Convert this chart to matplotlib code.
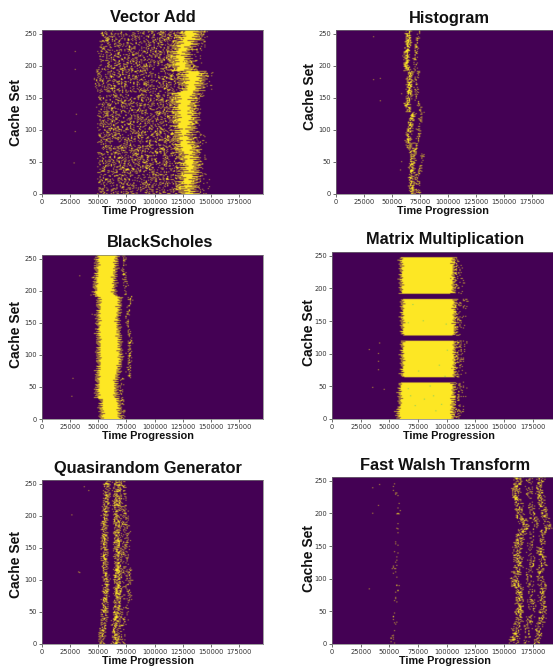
import numpy as np
import matplotlib
matplotlib.use("Agg")
import matplotlib.pyplot as plt

# Values below are in thousands of time units, one entry per 8 cache sets
# (set 0, 8, ... 248). Single speckle dots inside the
# dense regions cannot be read individually: STIPPLE is a hand-typed texture that
# only renders the estimated density of each region; it is not measured data.
FONT = ["Liberation Sans", "DejaVu Sans"]
X_TICKS = [0, 25000, 50000, 75000, 100000, 125000, 150000, 175000]
Y_TICKS = [0, 50, 100, 150, 200, 250]
TITLES = ["Vector Add", "Histogram", "BlackScholes", "Matrix Multiplication",
          "Quasirandom Generator", "Fast Walsh Transform"]

STIPPLE = [
 "7291840536172948305167293840152769348", "0648271953806417295380461729538064172",
 "4917360285914703682591470368259147036", "8352094716283950471628395047162839504",
 "1706483925071648392507164839250716483", "6284917035628491703562849170356284917",
 "3950162847395016284739501628473950162", "9471835062947183506294718350629471835",
 "2816049375281604937528160493752816049", "5093728146509372814650937281465093728",
 "8460291573846029157384602915738460291", "1375860942137586094213758609421375860",
 "6729413058672941305867294130586729413", "4051972836405197283640519728364051972",
 "9238650471923865047192386504719238650", "3784106925378410692537841069253784106",
 "0516389274051638927405163892740516389", "7942560318794256031879425603187942560",
 "2683047195268304719526830471952683047", "5170928463517092846351709284635170928",
 "8394716025839471602583947160258394716", "1062485739106248573910624857391062485",
 "4729301856472930185647293018564729301", "6815072394681507239468150723946815072",
 "0348956127034895612703489561270348956", "9571234680957123468095712346809571234",
 "3206817945320681794532068179453206817", "7485390162748539016274853901627485390",
 "1934062758193406275819340627581934062", "5860729413586072941358607294135860729",
 "2047583196204758319620475831962047583",
]
JITTER_A = [0, 2, -1, 3, -2, 1, -3, 0, 2, -2, 4, -1, 1, -3, 3, 0, -2, 2, -1, -4, 1, 3, -2, 0, 2, -1, -3, 1, 2]
JITTER_B = [1, -2, 3, 0, -1, 2, -3, 4, 0, -2, 1, 3, -1, -2, 2, 0, -4, 3, 1, -1, 2, -3, 0]

# Vector Add
VA_SOLID_L = [124, 124, 123, 123, 125, 125, 124, 124, 121, 120, 120, 119, 120, 118, 118, 118,
              118, 118, 118, 118, 126, 125, 125, 125, 117, 116, 116, 117, 118, 120, 123, 124]
VA_SOLID_R = [133, 134, 134, 135, 136, 136, 136, 135, 135, 134, 132, 130, 132, 133, 134, 134,
              133, 133, 134, 135, 138, 140, 141, 141, 131, 129, 128, 128, 130, 134, 137, 138]
VA_FIELD_L = [49, 49, 49, 49, 50, 50, 50, 50, 50, 50, 50, 50, 50, 50, 50, 50,
              50, 50, 50, 50, 48, 47, 47, 48, 50, 51, 51, 51, 52, 52, 52, 52]
VA_TAIL_R = [146, 146, 145, 144, 144, 143, 143, 143, 143, 144, 144, 143, 140, 140, 140, 140,
             139, 140, 141, 142, 149, 150, 152, 151, 141, 140, 138, 138, 141, 143, 145, 146]
VA_SPARSE_SETS = [4, 5, 11, 12, 19, 20, 26, 27, 31, 32, 77, 78, 79, 80, 143, 144, 151, 152, 155, 156, 157]
VA_DOTS = [(28, 48), (29, 97), (30, 124), (29, 194), (29, 222)]

# Histogram
H_MAIN = [67, 67, 67, 66.5, 67, 67, 68, 68, 67, 65, 64, 64, 65, 66, 67, 68,
          65, 63, 64, 65, 65, 65, 65, 66, 63, 62, 62, 62.5, 63, 64, 64, 64]
H_SECOND = [0, 0, 0, 0, 74, 75, 76.5, 76.5, 71, 71, 72.5, 73, 73, 74, 75, 76.5,
            74, 72.5, 72, 71, 71, 71, 71, 73.5, 70.5, 70, 70, 70.5, 71, 72, 72.7, 73.5]
H_DOTS = [(33, 178), (39, 180), (39, 145), (33, 245), (57, 37), (58, 50), (58, 156)]

# BlackScholes
BS_L = [52.5, 52.5, 52, 52, 48.7, 48.7, 49, 49, 49, 49.5, 50, 50, 50, 50, 50, 50,
        49.5, 49.5, 49.5, 49.5, 49.5, 50, 50, 50.5, 46.6, 47, 47, 47.5, 48, 48, 48.7, 48.7]
BS_R = [68, 68, 68, 67, 65, 65, 65, 65, 66, 67, 68, 69, 68.7, 68.5, 68, 68,
        67.5, 67, 66.5, 66.4, 67, 67.5, 68, 68, 63.4, 63.4, 63.4, 63.5, 64, 64.5, 65, 65.5]
BS_TRAIL = [72, 72, 71, 71, 70, 70, 70, 71, 76.7, 76.7, 76.7, 77, 76.7, 77, 77.5, 78,
            77, 76, 75.5, 75, 76, 76.5, 77, 78, 73, 73.5, 74, 73, 72, 72, 72.5, 72.5]
BS_DOTS = [(26, 35), (27, 63), (33, 223), (44, 163), (43, 193), (45, 221)]

# Matrix Multiplication
MM_L = [57.3, 57.3, 58.7, 59, 59, 59, 59, 0, 61, 61, 61, 61, 61, 61, 61, 0,
        61, 61, 61, 61, 61, 61, 61, 0, 60, 60, 60, 60, 60, 60, 60, 0]
MM_R = [104.6, 104.6, 104.6, 104.6, 105, 105, 105, 0, 106, 106, 106, 106, 106, 106, 106, 0,
        106, 106, 106, 106, 106, 106, 106, 0, 105, 105, 105, 105, 105, 105, 105, 0]
MM_TAIL = [112, 112, 112, 112, 113, 113, 114, 0, 112, 112, 112, 112, 113, 113, 114, 0,
           112, 113, 112, 113, 113, 114, 115, 0, 110, 110, 111, 112, 111, 111, 112, 0]
MM_DOTS = [(35, 48), (32, 106), (40, 75), (40, 88), (40, 100), (41, 116), (45, 45), (114, 56), (117, 118), (117, 183)]
MM_HOLES = [(68, 35), (72, 20), (80, 30), (90, 12), (88, 35), (95, 22), (70, 175), (66, 147), (79, 150),
            (99, 145), (75, 73), (93, 82), (98, 65), (100, 105), (66, 46), (85, 50)]

# Quasirandom Generator
Q_A = [53, 53, 53, 54, 54.5, 55, 55, 55, 55, 56, 56, 56, 57, 56, 55, 55,
       55, 55, 55, 55, 55, 55, 55, 55, 56, 56, 56, 57, 57, 57, 57, 57]
Q_B = [65, 65, 65, 65, 65, 66, 66, 66, 66.5, 67, 67, 67, 67, 67, 67, 67,
       67, 67, 66.5, 66.5, 66.4, 66.4, 66.4, 66.4, 66, 66, 66, 66, 66, 66, 66, 66]
Q_C = [70, 70, 71, 71, 72, 72, 73, 74, 75, 75, 76, 76, 77, 76, 75, 74,
       74, 74, 74, 74, 74, 74, 74, 73, 73, 72, 72, 71, 71, 71, 70, 70]
Q_DOTS = [(26, 201), (32, 112), (33, 111), (37, 245), (41, 239), (52, 200)]

# Fast Walsh Transform
F_MAIN = [158, 159, 160, 161, 162, 162, 162, 163, 163, 163, 162, 160, 158, 160, 162, 162,
          162, 161, 161, 162, 163, 165, 168, 166, 163, 163, 163, 161, 159, 160, 161, 162]
F_FAINT = [52, 52, 53, 53, 54, 54, 55, 55, 55, 55, 56, 56, 55, 54, 54, 55,
           55, 55, 56, 55, 56, 57, 57, 57, 57, 58, 57, 56, 55, 55, 55, 55]
F_OFFSET_2 = [10, 11, 10, 9, 10, 11, 12, 11, 10, 9, 11, 12, 13, 11, 10, 12,
              12, 11, 10, 11, 10, 9, 10, 11, 12, 11, 10, 10, 12, 11, 10, 10]
F_OFFSET_3 = [20, 21, 19, 20, 21, 22, 21, 20, 19, 21, 22, 24, 23, 21, 20, 22,
              21, 20, 20, 22, 21, 19, 20, 22, 23, 21, 20, 21, 23, 21, 20, 20]
F_DOTS = [(32, 84), (35, 200), (40, 212), (35, 239), (41, 244)]


def blank():
    return np.zeros((256, 196))


def fill(img, left, right, density, shift=0, sparse=(), jitter=1.0):
    """Mark cells between two per-bin edges, thinned by the typed stipple tile."""
    for row in range(256):
        bin_ = row // 8
        if left[bin_] <= 0 or right[bin_] <= 0:
            continue
        lo = int(round(left[bin_] + jitter * JITTER_A[(row + shift) % len(JITTER_A)]))
        hi = int(round(right[bin_] + jitter * JITTER_B[(row + shift) % len(JITTER_B)]))
        d = density * (0.2 if row in sparse else 1.0)
        for col in range(max(lo, 0), min(hi, 195) + 1):
            r = (row + shift + 3 * JITTER_A[col % len(JITTER_A)]) % len(STIPPLE)
            c = (col + shift * 5 + 3 * JITTER_B[row % len(JITTER_B)]) % len(STIPPLE[0])
            if int(STIPPLE[r][c]) < d * 10:
                img[row, col] = 1


def ridge(img, centres, half_width, density, shift=0, jitter=0.35):
    left = [c - half_width if c > 0 else 0 for c in centres]
    right = [c + half_width if c > 0 else 0 for c in centres]
    fill(img, left, right, density, shift, jitter=jitter)


def dots(img, points, value=1):
    for t, s in points:
        img[s, t] = value


va = blank()
fill(va, VA_FIELD_L, VA_SOLID_L, 0.2, 0, VA_SPARSE_SETS, 0.4)
fill(va, VA_SOLID_R, VA_TAIL_R, 0.1, 3, VA_SPARSE_SETS, 1.0)
fill(va, VA_SOLID_L, VA_SOLID_R, 1.0, 7, jitter=1.6)
dots(va, VA_DOTS)

hist = blank()
ridge(hist, H_MAIN, 1.6, 0.6, 1)
ridge(hist, H_SECOND, 0.6, 0.4, 5)
ridge(hist, [c + 5 if i < 4 else 0 for i, c in enumerate(H_MAIN)], 1.5, 0.2, 9)
dots(hist, H_DOTS)

bs = blank()
fill(bs, BS_L, BS_R, 1.0, 2, jitter=0.8)
ridge(bs, BS_TRAIL, 0.8, 0.3, 4)
dots(bs, BS_DOTS)

mm = blank()
fill(mm, MM_R, MM_TAIL, 0.2, 6)
fill(mm, MM_L, MM_R, 1.0, 8, jitter=0.7)
dots(mm, MM_DOTS)
dots(mm, MM_HOLES, 0.7)

qr = blank()
ridge(qr, Q_A, 1.8, 0.45, 2)
ridge(qr, Q_B, 2.5, 0.42, 6)
ridge(qr, Q_C, 2.5, 0.15, 11)
dots(qr, Q_DOTS)

fw = blank()
ridge(fw, F_MAIN, 2.8, 0.35, 3)
ridge(fw, [a + b for a, b in zip(F_MAIN, F_OFFSET_2)], 2.2, 0.2, 7)
ridge(fw, [a + b for a, b in zip(F_MAIN, F_OFFSET_3)], 2.2, 0.2, 12)
ridge(fw, [a + b + 9 for a, b in zip(F_MAIN, F_OFFSET_2)], 1.5, 0.12, 15)
ridge(fw, F_FAINT, 0.8, 0.1, 10)
dots(fw, F_DOTS)

IMAGES = [va, hist, bs, mm, qr, fw]

W, H = 553, 669
AXES_PX = [(42, 30, 220.5, 164), (336, 30, 220, 164), (42, 255, 220.5, 164),
           (332, 252, 225, 166.7), (42, 480, 220.5, 164), (332, 477, 225, 166.7)]
TITLE_PX = [(153, 17), (449, 18), (160, 242), (445, 240), (148, 468), (445, 465)]
XLAB_PX = [(148, 211), (443, 211), (148, 436), (449, 436), (148, 661), (445, 661)]
YLAB_PX = [(16, 112), (310, 97), (16, 335), (309, 333), (16, 565), (309, 558)]

fig = plt.figure(figsize=(W / 100, H / 100), dpi=100, facecolor="white")
for i in range(6):
    x, y, w, h = AXES_PX[i]
    ax = fig.add_axes([x / W, 1 - (y + h) / H, w / W, h / H])
    ax.imshow(IMAGES[i], origin="lower", aspect="auto", cmap="viridis", vmin=0, vmax=1,
              extent=(0, 196000, 0, 256), interpolation="gaussian", interpolation_stage="rgba")
    ax.set_xticks(X_TICKS)
    ax.set_yticks(Y_TICKS)
    ax.tick_params(labelsize=4.8, length=2, width=0.5, pad=1.5, colors="#333333")
    for sp in ax.spines.values():
        sp.set_linewidth(0.5)
        sp.set_color("#777777")
    fig.text(TITLE_PX[i][0] / W, 1 - TITLE_PX[i][1] / H, TITLES[i], family=FONT, weight="bold",
             fontsize=11.8, ha="center", va="center", color="#111111")
    fig.text(XLAB_PX[i][0] / W, 1 - XLAB_PX[i][1] / H, "Time Progression", family=FONT, weight="bold",
             fontsize=7.8, ha="center", va="center", color="#111111")
    fig.text(YLAB_PX[i][0] / W, 1 - YLAB_PX[i][1] / H, "Cache Set", family=FONT, weight="bold",
             fontsize=10, rotation=90, ha="center", va="center", color="#111111")

fig.savefig("out.png", dpi=100)
